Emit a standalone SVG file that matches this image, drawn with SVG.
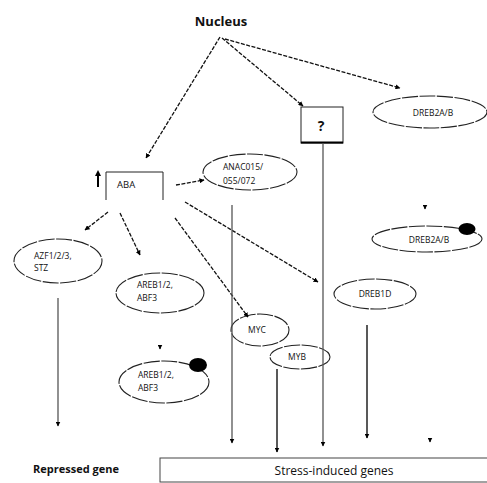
<svg xmlns="http://www.w3.org/2000/svg" width="487" height="483" viewBox="0 0 487 483">
<defs>
<marker id="ah" viewBox="0 0 10 10" refX="9" refY="5" markerWidth="5" markerHeight="5" orient="auto" markerUnits="userSpaceOnUse">
<path d="M0,0 L10,5 L0,10 z" fill="#000"/>
</marker>
</defs>
<style>
text{font-family:"Open Sans","Liberation Sans",sans-serif;fill:#111}
.lbl{font-size:8.5px}
.ell{fill:#fff;stroke:#222;stroke-width:1.1;stroke-dasharray:16 1.5}
.dash{fill:none;stroke:#111;stroke-width:1.3;stroke-dasharray:4 1.5;marker-end:url(#ah)}
.vl{fill:none;stroke:#555;stroke-width:1.3;marker-end:url(#ah)}
.vd{fill:none;stroke:#222;stroke-width:1.5;marker-end:url(#ah)}
</style>
<rect width="487" height="483" fill="#fff"/>
<g id="nucleus"><text x="221" y="26" font-size="13" font-weight="bold" text-anchor="middle">Nucleus</text></g>
<g id="aba">
<path d="M106,200 L106,172 L163,172 L163,200" fill="none" stroke="#222" stroke-width="1"/>
<path d="M98,187 L98,174" stroke="#000" stroke-width="2"/>
<path d="M95,176 L98,170 L101,176 z" fill="#000"/>
<text x="117" y="188" font-size="9.5">ABA</text>
</g>
<g id="question">
<rect x="301" y="107" width="42" height="36" fill="#fff" stroke="#222" stroke-width="1"/>
<path d="M301,142.5 L343,142.5" stroke="#000" stroke-width="2"/>
<text x="321" y="131" font-size="14" font-weight="bold" text-anchor="middle">?</text>
</g>
<g id="dreb2a">
<ellipse class="ell" cx="430" cy="112" rx="57" ry="16"/>
<text class="lbl" x="433" y="116" text-anchor="middle">DREB2A/B</text>
</g>
<g id="anac">
<ellipse class="ell" cx="250" cy="172" rx="47" ry="18"/>
<text class="lbl" x="223" y="170">ANAC015/</text>
<text class="lbl" x="223" y="184">055/072</text>
</g>
<g id="dreb2a-p">
<ellipse class="ell" cx="427" cy="239" rx="55" ry="13"/>
<ellipse cx="467" cy="229" rx="8.5" ry="6" fill="#000"/>
<text class="lbl" x="429" y="243" text-anchor="middle">DREB2A/B</text>
</g>
<g id="azf">
<ellipse class="ell" cx="58" cy="261" rx="44" ry="22"/>
<text class="lbl" x="34" y="259">AZF1/2/3,</text>
<text class="lbl" x="34" y="271">STZ</text>
</g>
<g id="areb1">
<ellipse class="ell" cx="160" cy="293" rx="44" ry="20"/>
<text class="lbl" x="137" y="288">AREB1/2,</text>
<text class="lbl" x="137" y="301">ABF3</text>
</g>
<g id="dreb1d">
<ellipse class="ell" cx="375" cy="294" rx="41" ry="15"/>
<text class="lbl" x="375" y="297" text-anchor="middle">DREB1D</text>
</g>
<g id="myc">
<ellipse class="ell" cx="260" cy="330" rx="29" ry="16"/>
<text class="lbl" x="257" y="333" text-anchor="middle">MYC</text>
</g>
<g id="myb">
<ellipse class="ell" cx="300" cy="357" rx="30" ry="12"/>
<text class="lbl" x="297" y="360" text-anchor="middle">MYB</text>
</g>
<g id="areb2">
<ellipse class="ell" cx="164" cy="382" rx="45" ry="21"/>
<ellipse cx="198" cy="365" rx="9" ry="7" fill="#000"/>
<text class="lbl" x="138" y="378">AREB1/2,</text>
<text class="lbl" x="138" y="391">ABF3</text>
</g>
<g id="repressed"><text x="33" y="473" font-size="11" font-weight="bold">Repressed gene</text></g>
<g id="stress">
<rect x="160" y="458" width="330" height="24" fill="#fff" stroke="#444" stroke-width="1"/>
<text x="334" y="475" font-size="12" text-anchor="middle">Stress-induced genes</text>
</g>
<g id="connectors">
<path class="dash" d="M220,37 L146,158"/>
<path class="dash" d="M222,38 L303,106"/>
<path class="dash" d="M225,39 L400,88"/>
<path class="dash" d="M176,185 L204,180"/>
<path class="dash" d="M108,212 L85,230"/>
<path class="dash" d="M120,213 L140,255"/>
<path class="dash" d="M175,218 L248,317"/>
<path class="dash" d="M185,202 L318,282"/>
<path class="vl" d="M323,143 L323,446"/>
<path class="vl" d="M232,205 L232,443"/>
<path class="vl" d="M58,298 L58,426"/>
<path class="vd" d="M277,369 L277,452"/>
<path class="vd" d="M367,325 L367,438"/>
<path d="M425,205 L425,209" stroke="#000" stroke-width="1" marker-end="url(#ah)"/>
<path d="M160,346 L160,349" stroke="#000" stroke-width="1" marker-end="url(#ah)"/>
<path d="M430,440 L430,442" stroke="#000" stroke-width="1" marker-end="url(#ah)"/>
</g>
</svg>
